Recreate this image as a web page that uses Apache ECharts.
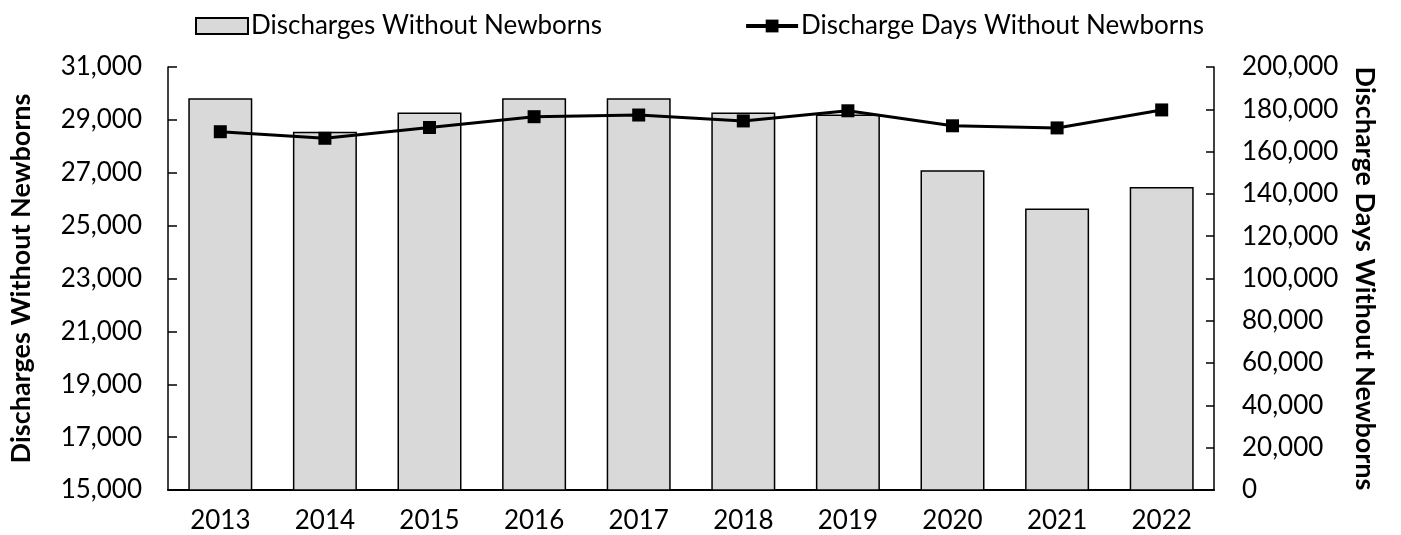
<!DOCTYPE html>
<html>
<head>
<meta charset="utf-8">
<script src="https://cdn.jsdelivr.net/npm/echarts@6/dist/echarts.min.js"></script>
<style>
  html, body { margin: 0; padding: 0; background: #fff; }
  #main { width: 1401px; height: 535px; }
</style>
</head>
<body>
<div id="main"></div>
<script>
const years = ["2013", "2014", "2015", "2016", "2017", "2018", "2019", "2020", "2021", "2022"];
const discharges = [29820, 28550, 29275, 29820, 29820, 29275, 29200, 27090, 25650, 26460];
const dischargeDays = [169400, 166300, 171400, 176500, 177300, 174500, 179300, 172200, 171200, 179700];

const font = "Lato";

let myChart = echarts.init(document.getElementById("main"));
myChart.setOption({
  animation: false,
  textStyle: { fontFamily: font },
  legend: {
    top: 8,
    left: 190,
    itemGap: 142,
    textStyle: { fontSize: 26, color: "#000", fontFamily: font, padding: [0, 0, 0, -2] },
    data: [
      { name: "Discharges Without Newborns", icon: "rect", itemStyle: { color: "#d9d9d9", borderColor: "#000", borderWidth: 2 } },
      { name: "Discharge Days Without Newborns", lineStyle: { width: 4, color: "#000" } }
    ],
    itemWidth: 52,
    itemHeight: 16
  },
  grid: { left: 166, right: 187, top: 67, bottom: 45 },
  xAxis: {
    type: "category",
    data: years,
    axisLine: { lineStyle: { color: "#000", width: 2 } },
    axisTick: { show: false },
    axisLabel: { fontSize: 26, color: "#000", margin: 18 }
  },
  yAxis: [
    {
      type: "value",
      min: 15000,
      max: 31000,
      interval: 2000,
      name: "Discharges Without Newborns",
      nameLocation: "middle",
      nameGap: 133,
      nameTextStyle: { fontSize: 27, fontWeight: "bold", color: "#000" },
      axisLine: { show: true, lineStyle: { color: "#000", width: 1.5 } },
      axisTick: { show: true, inside: true, length: 9, lineStyle: { color: "#000", width: 1.5 } },
      splitLine: { show: false },
      axisLabel: {
        fontSize: 26, color: "#000", margin: 26,
        formatter: v => v.toLocaleString("en-US")
      }
    },
    {
      type: "value",
      min: 0,
      max: 200000,
      interval: 20000,
      name: "Discharge Days Without Newborns",
      nameLocation: "middle",
      nameRotate: -90,
      nameGap: 137,
      nameTextStyle: { fontSize: 27, fontWeight: "bold", color: "#000" },
      axisLine: { show: true, lineStyle: { color: "#000", width: 1.5 } },
      axisTick: { show: true, inside: true, length: 8, lineStyle: { color: "#000", width: 1.5 } },
      splitLine: { show: false },
      axisLabel: {
        fontSize: 26, color: "#000", margin: 28,
        formatter: v => v.toLocaleString("en-US")
      }
    }
  ],
  series: [
    {
      name: "Discharges Without Newborns",
      type: "bar",
      data: discharges,
      barWidth: 64,
      itemStyle: { color: "#d9d9d9", borderColor: "#000", borderWidth: 1.5 }
    },
    {
      name: "Discharge Days Without Newborns",
      type: "line",
      yAxisIndex: 1,
      data: dischargeDays,
      symbol: "rect",
      symbolSize: 13,
      lineStyle: { color: "#000", width: 3 },
      itemStyle: { color: "#000" }
    }
  ]
});
</script>
</body>
</html>
